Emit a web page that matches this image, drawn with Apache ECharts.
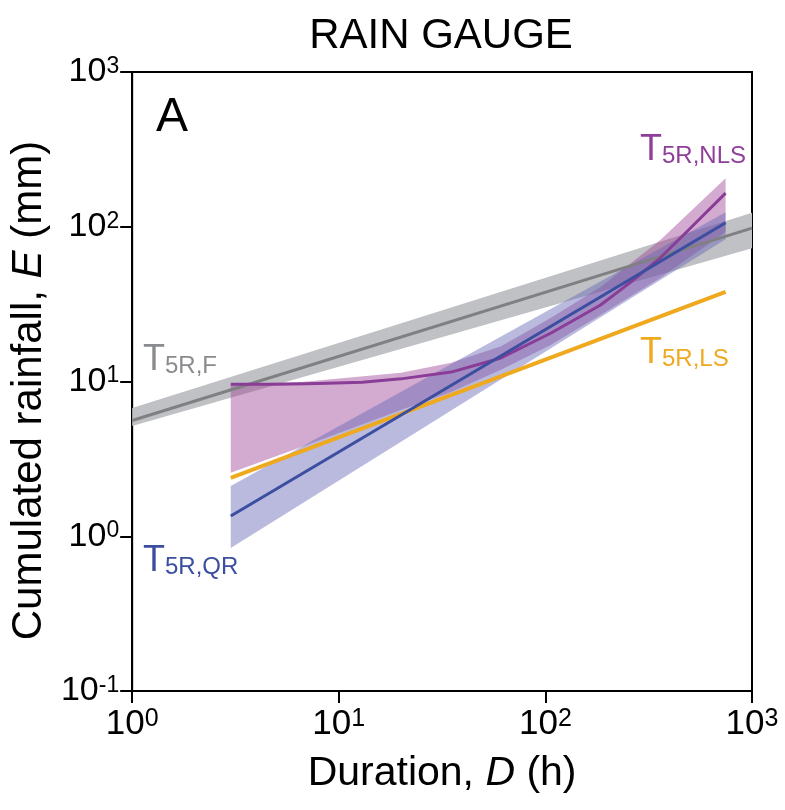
<!DOCTYPE html>
<html>
<head>
<meta charset="utf-8">
<title>Rain gauge</title>
<script src="https://cdn.jsdelivr.net/npm/echarts@6/dist/echarts.min.js"></script>
<style>
  html, body { margin: 0; padding: 0; background: #fff; }
  #chart { width: 785px; height: 810px; }
</style>
</head>
<body>
<div id="chart"></div>
<script>
'use strict';
// durations (h) and cumulated rainfall (mm)
var durF = [1, 1000];
var eF = [5.6, 98];
var eFLow = [5.15, 72.6];
var eFUp = [6.74, 123];

var durLS = [3, 745];
var eLS = [2.38, 38];

var durQR = [3, 745];
var eQR = [1.35, 106];
var eQRLow = [0.84, 83];
var eQRUp = [2.11, 124];

var durNLS = [3, 5, 8, 13, 20, 35, 61, 106, 185, 260, 360, 500, 745];
var eNLS = [9.6, 9.6, 9.7, 9.9, 10.4, 11.5, 14.2, 20.5, 31.2, 44, 63, 97, 165];

var durNLSBand = [3, 6.6, 20, 35, 61, 106, 185, 360, 745];
var eNLSLow = [2.57, 3.78, 6.55, 8.55, 11.9, 17.2, 26.9, 46.7, 92.5];
var eNLSUp = [9.64, 9.93, 11.4, 13.2, 16.9, 25.7, 40.8, 82, 206];

var FONT = '"Liberation Sans", Arial, sans-serif';

function pairs(xs, ys) {
	var out = [];
	for (var i = 0; i < xs.length; i++) out.push([xs[i], ys[i]]);
	return out;
}

// polygon between a lower and an upper curve, positioned by the axes
function band(xs, low, up, fill) {
	return {
		type: 'custom',
		coordinateSystem: 'cartesian2d',
		clip: true,
		silent: true,
		data: [[xs[0], low[0]]],
		renderItem: function(params, api) {
			var pts = [];
			for (var i = 0; i < xs.length; i++) pts.push(api.coord([xs[i], up[i]]));
			for (var j = xs.length - 1; j >= 0; j--) pts.push(api.coord([xs[j], low[j]]));
			return { type: 'polygon', shape: { points: pts }, style: { fill: fill } };
		}
	};
}

function line(xs, ys, color, width) {
	return {
		type: 'line',
		data: pairs(xs, ys),
		showSymbol: false,
		silent: true,
		lineStyle: { color: color, width: width, cap: 'butt', join: 'round' }
	};
}

function powLabel(v) {
	var p = Math.round(Math.log10(v));
	return '{b|10}{s|' + p + '}';
}

function curveLabel(x, y, sub, color) {
	return {
		type: 'text', x: x, y: y,
		style: {
			text: '{t|T}{s|' + sub + '}',
			fill: color,
			verticalAlign: 'middle',
			rich: {
				t: { fontSize: 36, lineHeight: 36, fontFamily: FONT, fill: color },
				s: { fontSize: 24, lineHeight: 14, verticalAlign: 'bottom', fontFamily: FONT, fill: color }
			}
		}
	};
}

var chart = echarts.init(document.getElementById('chart'), null, { renderer: 'canvas' });

var option = {
	animation: false,
	backgroundColor: '#fff',
	grid: {
		left: 130, top: 72, right: 33, bottom: 119,
		show: true, borderColor: '#000', borderWidth: 2
	},
	xAxis: {
		type: 'log', logBase: 10, min: 1, max: 1000, splitNumber: 3,
		name: '{n|Duration, }{i|D}{n| (h)}',
		nameLocation: 'middle', nameGap: 62,
		nameTextStyle: {
			rich: {
				n: { fontSize: 41, fontFamily: FONT, color: '#000' },
				i: { fontSize: 41, fontFamily: FONT, fontStyle: 'italic', color: '#000' }
			}
		},
		axisLine: { show: true, onZero: false, lineStyle: { color: '#000', width: 2 } },
		axisTick: { show: true, inside: false, length: 12, lineStyle: { color: '#000', width: 2 } },
		minorTick: { show: false },
		splitLine: { show: false },
		axisLabel: {
			margin: 16,
			formatter: powLabel,
			rich: {
				b: { fontSize: 35, lineHeight: 35, fontFamily: FONT, color: '#000' },
				s: { fontSize: 25, lineHeight: 16, verticalAlign: 'top', fontFamily: FONT, color: '#000' }
			}
		}
	},
	yAxis: {
		type: 'log', logBase: 10, min: 0.1, max: 1000, splitNumber: 4,
		name: '{n|Cumulated rainfall, }{i|E}{n| (mm)}',
		nameLocation: 'middle', nameGap: 82, nameRotate: 90,
		nameTextStyle: {
			padding: [0, 18, 0, 0],
			rich: {
				n: { fontSize: 42, fontFamily: FONT, color: '#000' },
				i: { fontSize: 42, fontFamily: FONT, fontStyle: 'italic', color: '#000' }
			}
		},
		axisLine: { show: true, onZero: false, lineStyle: { color: '#000', width: 2 } },
		axisTick: { show: true, inside: false, length: 12, lineStyle: { color: '#000', width: 2 } },
		minorTick: { show: false },
		splitLine: { show: false },
		axisLabel: {
			margin: 13,
			formatter: powLabel,
			rich: {
				b: { fontSize: 34, lineHeight: 34, fontFamily: FONT, color: '#000' },
				s: { fontSize: 23, lineHeight: 14, verticalAlign: 'top', fontFamily: FONT, color: '#000' }
			}
		}
	},
	graphic: [
		{ type: 'text', x: 441, y: 36, style: { text: 'RAIN GAUGE', fontSize: 42, fontFamily: FONT, fill: '#000', align: 'center', verticalAlign: 'middle' } },
		{ type: 'text', x: 156, y: 118, style: { text: 'A', fontSize: 48, fontFamily: FONT, fill: '#000', verticalAlign: 'middle' } },
		curveLabel(143, 360, '5R,F', '#8a8b8e'),
		curveLabel(640, 150, '5R,NLS', '#8f3f99'),
		curveLabel(640, 353, '5R,LS', '#efa91e'),
		curveLabel(143, 561, '5R,QR', '#3b4ea0')
	],
	series: [
		band(durF, eFLow, eFUp, '#bfc1c4'),
		band(durNLSBand, eNLSLow, eNLSUp, 'rgba(159,68,151,0.45)'),
		band(durQR, eQRLow, eQRUp, 'rgba(102,102,182,0.45)'),
		line(durF, eF, '#808083', 3),
		line(durNLS, eNLS, '#8a3d96', 3),
		line(durLS, eLS, '#efa91e', 4),
		line(durQR, eQR, '#3b4ea0', 3)
	]
};

chart.setOption(option);
</script>
</body>
</html>
